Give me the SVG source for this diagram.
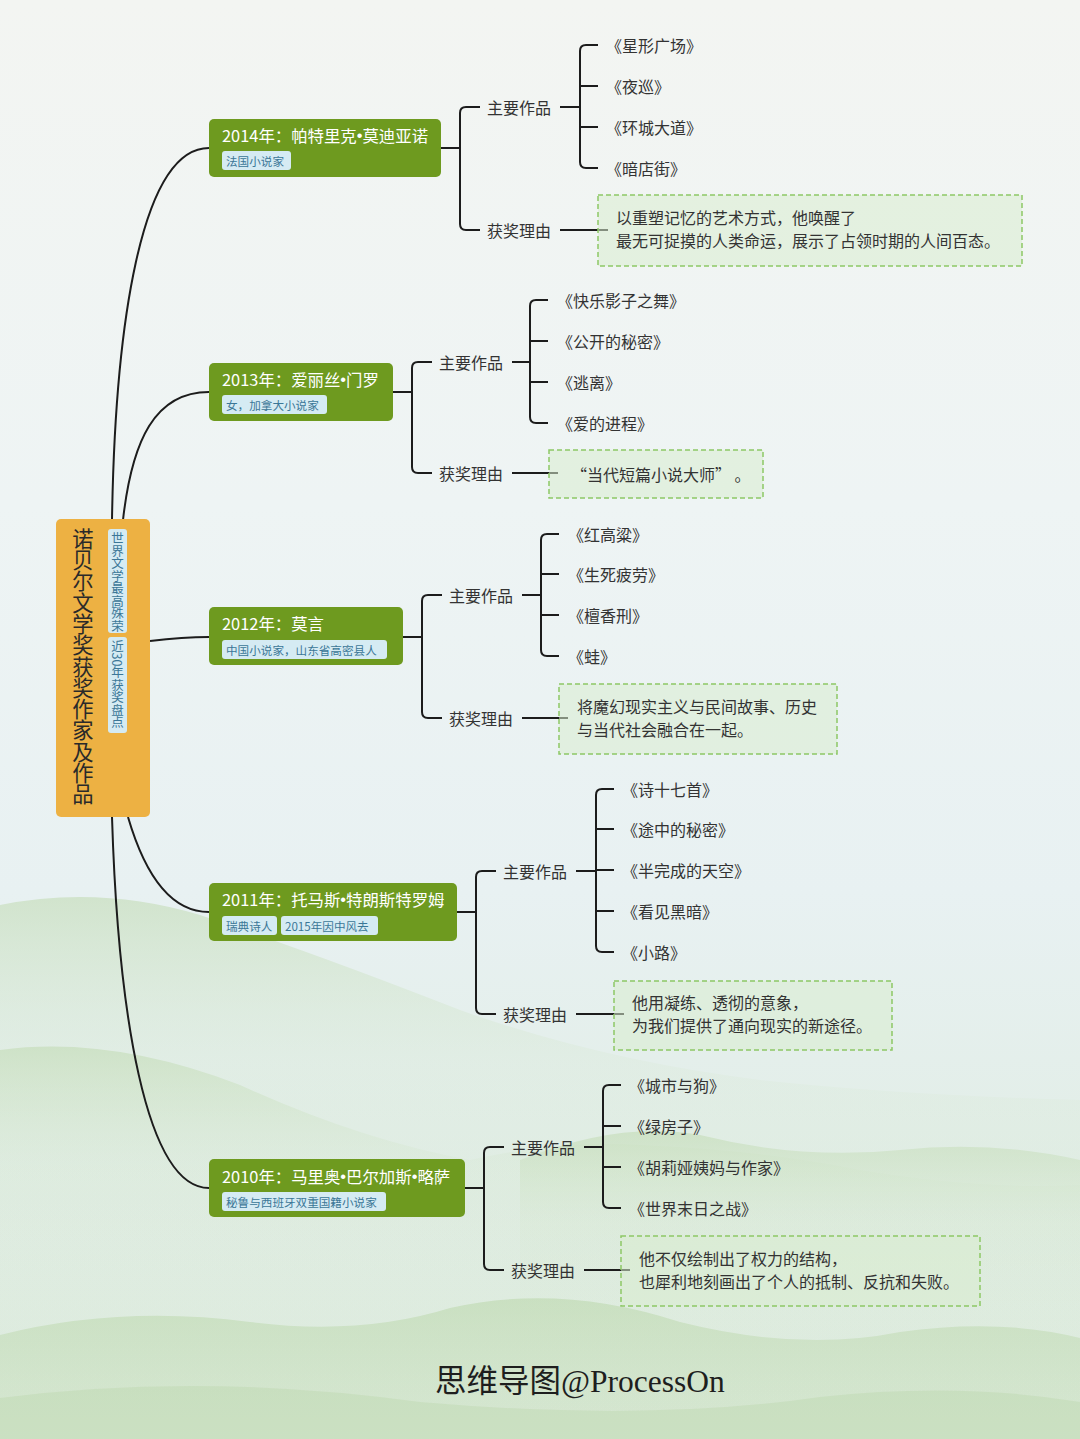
<svg xmlns="http://www.w3.org/2000/svg" width="1080" height="1439" viewBox="0 0 1080 1439">
<defs>
<linearGradient id="bg" x1="0" y1="0" x2="0" y2="1">
<stop offset="0" stop-color="#f3f5f2"/>
<stop offset="0.35" stop-color="#eef4f4"/>
<stop offset="0.62" stop-color="#e8f1f2"/>
<stop offset="1" stop-color="#dbeadb"/>
</linearGradient>
<linearGradient id="hill" x1="0" y1="0" x2="0" y2="1">
<stop offset="0" stop-color="#c2dbb4" stop-opacity="0.6"/>
<stop offset="0.3" stop-color="#d3e6cb" stop-opacity="0.2"/>
<stop offset="1" stop-color="#e6f0e6" stop-opacity="0"/>
</linearGradient>
<linearGradient id="hill2" x1="0" y1="0" x2="0" y2="1">
<stop offset="0" stop-color="#bcd8ad" stop-opacity="0.6"/>
<stop offset="1" stop-color="#cfe3c6" stop-opacity="0.45"/>
</linearGradient>
<style>
.t{font-family:"Noto Sans CJK SC","Noto Sans",sans-serif;}
.b{font-family:"Liberation Sans",sans-serif;}
.lbl{font-size:16px;fill:#333;dominant-baseline:central;}
.item{font-size:16px;fill:#333;dominant-baseline:central;}
.rsn{font-size:16px;fill:#333;}
.yr{fill:#6e9a1f;}
.ytitle{font-size:16.4px;fill:#fff;dominant-baseline:central;}
.tag{fill:#d5ebf3;}
.tagt{font-size:11.6px;fill:#3b7797;dominant-baseline:central;}
.box{fill:#d9edcf;fill-opacity:0.55;stroke:#8dc866;stroke-width:1.5;stroke-dasharray:5 3;}
.ln{fill:none;stroke:#1c1c1c;stroke-width:2;}
</style>
</defs>
<rect x="0" y="0" width="1080" height="1439" fill="url(#bg)"/>
<g id="background-hills">
<path d="M0,905 Q100,885 200,915 Q320,955 460,1010 Q600,1060 760,1080 Q900,1095 1080,1100 L1080,1439 L0,1439 Z" fill="url(#hill)"/>
<path d="M0,1050 Q110,1035 240,1085 Q360,1140 470,1160 Q560,1140 640,1145 Q760,1150 860,1170 Q980,1190 1080,1185 L1080,1439 L0,1439 Z" fill="url(#hill)"/>
<path d="M520,1160 Q620,1120 700,1135 Q800,1160 900,1150 Q990,1140 1080,1160 L1080,1439 L520,1439 Z" fill="url(#hill)"/>
<path d="M0,1335 Q120,1305 250,1322 Q360,1336 450,1308 Q560,1283 680,1322 Q800,1352 900,1332 Q1000,1318 1080,1338 L1080,1439 L0,1439 Z" fill="url(#hill2)"/>
<path d="M0,1398 Q200,1372 420,1402 Q650,1422 820,1397 Q960,1382 1080,1402 L1080,1439 L0,1439 Z" fill="#b6d4a6" fill-opacity="0.35"/>
</g>
<g id="connectors">
<path class="ln" d="M112,520 C115,330 140,148 209,148"/>
<path class="ln" d="M123,520 C132,440 155,392 209,392"/>
<path class="ln" d="M150,641 C175,638 190,637 209,637"/>
<path class="ln" d="M128,817 C145,875 170,912 209,912"/>
<path class="ln" d="M112,817 C118,1010 145,1188 209,1188"/>
<path class="ln" d="M441,148 H460 M480,107 H466 Q460,107 460,113 V224 Q460,230 466,230 H480 M560,107 H580 M598,45 H586 Q580,45 580,51 V162 Q580,168 586,168 H598 M580,86 H598 M580,127 H598 M560,230 H608"/>
<path class="ln" d="M393,392 H412 M432,362 H418 Q412,362 412,368 V467 Q412,473 418,473 H432 M512,362 H530 M548,300 H536 Q530,300 530,306 V417 Q530,423 536,423 H548 M530,341 H548 M530,382 H548 M512,473 H558"/>
<path class="ln" d="M403,637 H422 M442,595 H428 Q422,595 422,601 V712 Q422,718 428,718 H442 M522,595 H541 M559,534 H547 Q541,534 541,540 V650 Q541,656 547,656 H559 M541,574 H559 M541,615 H559 M522,718 H568"/>
<path class="ln" d="M457,912 H476 M496,871 H482 Q476,871 476,877 V1008 Q476,1014 482,1014 H496 M576,871 H596 M614,789 H602 Q596,789 596,795 V946 Q596,952 602,952 H614 M596,829 H614 M596,870 H614 M596,911 H614 M576,1014 H624"/>
<path class="ln" d="M465,1188 H484 M504,1147 H490 Q484,1147 484,1153 V1264 Q484,1270 490,1270 H504 M584,1147 H603 M621,1085 H609 Q603,1085 603,1091 V1202 Q603,1208 609,1208 H621 M603,1126 H621 M603,1167 H621 M584,1270 H630"/>
</g>
<g id="root">
<rect x="56" y="519" width="94" height="298" rx="5" fill="#edb143"/>
<text class="t" x="83" y="528" font-size="21.3" fill="#2a2a2a" style="writing-mode:vertical-rl">诺贝尔文学奖获奖作家及作品</text>
<rect class="tag" x="108" y="529" width="19" height="104" rx="3"/>
<text class="t" x="117.5" y="532" font-size="12.5" fill="#3b7797" style="writing-mode:vertical-rl">世界文学最高殊荣</text>
<rect class="tag" x="108" y="637" width="19" height="96" rx="3"/>
<text class="t" x="117.5" y="640" font-size="12.5" fill="#3b7797" style="writing-mode:vertical-rl">近30年获奖盘点</text>
</g>
<g id="n2014">
<rect class="yr" x="209" y="119" width="232" height="58" rx="5"/>
<text class="t ytitle" x="222" y="135">2014年：帕特里克<tspan class="b">•</tspan>莫迪亚诺</text>
<rect class="tag" x="222" y="151" width="69" height="19" rx="3"/>
<text class="t tagt" x="226" y="161">法国小说家</text>
</g>
<g id="n2014-works">
<text class="t lbl" x="487" y="107">主要作品</text>
<text class="t item" x="606" y="45">《星形广场》</text>
<text class="t item" x="606" y="86">《夜巡》</text>
<text class="t item" x="606" y="127">《环城大道》</text>
<text class="t item" x="606" y="168">《暗店街》</text>
</g>
<g id="n2014-reason">
<text class="t lbl" x="487" y="230">获奖理由</text>
<rect class="box" x="598" y="195" width="424" height="71"/>
<text class="t rsn" x="616" y="224">以重塑记忆的艺术方式，他唤醒了</text>
<text class="t rsn" x="616" y="247">最无可捉摸的人类命运，展示了占领时期的人间百态。</text>
</g>
<g id="n2013">
<rect class="yr" x="209" y="363" width="184" height="58" rx="5"/>
<text class="t ytitle" x="222" y="379">2013年：爱丽丝<tspan class="b">•</tspan>门罗</text>
<rect class="tag" x="222" y="395" width="105" height="19" rx="3"/>
<text class="t tagt" x="226" y="405">女，加拿大小说家</text>
</g>
<g id="n2013-works">
<text class="t lbl" x="439" y="362">主要作品</text>
<text class="t item" x="557" y="300">《快乐影子之舞》</text>
<text class="t item" x="557" y="341">《公开的秘密》</text>
<text class="t item" x="557" y="382">《逃离》</text>
<text class="t item" x="557" y="423">《爱的进程》</text>
</g>
<g id="n2013-reason">
<text class="t lbl" x="439" y="473">获奖理由</text>
<rect class="box" x="549" y="450" width="214" height="48"/>
<text class="t lbl" x="571" y="474">“当代短篇小说大师” 。</text>
</g>
<g id="n2012">
<rect class="yr" x="209" y="607" width="194" height="58" rx="5"/>
<text class="t ytitle" x="222" y="623">2012年：莫言</text>
<rect class="tag" x="222" y="640" width="165" height="19" rx="3"/>
<text class="t tagt" x="226" y="650">中国小说家，山东省高密县人</text>
</g>
<g id="n2012-works">
<text class="t lbl" x="449" y="595">主要作品</text>
<text class="t item" x="568" y="534">《红高粱》</text>
<text class="t item" x="568" y="574">《生死疲劳》</text>
<text class="t item" x="568" y="615">《檀香刑》</text>
<text class="t item" x="568" y="656">《蛙》</text>
</g>
<g id="n2012-reason">
<text class="t lbl" x="449" y="718">获奖理由</text>
<rect class="box" x="559" y="684" width="278" height="70"/>
<text class="t rsn" x="577" y="713">将魔幻现实主义与民间故事、历史</text>
<text class="t rsn" x="577" y="736">与当代社会融合在一起。</text>
</g>
<g id="n2011">
<rect class="yr" x="209" y="883" width="248" height="58" rx="5"/>
<text class="t ytitle" x="222" y="899">2011年：托马斯<tspan class="b">•</tspan>特朗斯特罗姆</text>
<rect class="tag" x="222" y="916" width="55" height="19" rx="3"/>
<text class="t tagt" x="226" y="926">瑞典诗人</text>
<rect class="tag" x="281" y="916" width="97" height="19" rx="3"/>
<text class="t tagt" x="285" y="926">2015年因中风去</text>
</g>
<g id="n2011-works">
<text class="t lbl" x="503" y="871">主要作品</text>
<text class="t item" x="622" y="789">《诗十七首》</text>
<text class="t item" x="622" y="829">《途中的秘密》</text>
<text class="t item" x="622" y="870">《半完成的天空》</text>
<text class="t item" x="622" y="911">《看见黑暗》</text>
<text class="t item" x="622" y="952">《小路》</text>
</g>
<g id="n2011-reason">
<text class="t lbl" x="503" y="1014">获奖理由</text>
<rect class="box" x="614" y="981" width="278" height="69"/>
<text class="t rsn" x="632" y="1009">他用凝练、透彻的意象，</text>
<text class="t rsn" x="632" y="1032">为我们提供了通向现实的新途径。</text>
</g>
<g id="n2010">
<rect class="yr" x="209" y="1159" width="256" height="58" rx="5"/>
<text class="t ytitle" x="222" y="1176">2010年：马里奥<tspan class="b">•</tspan>巴尔加斯<tspan class="b">•</tspan>略萨</text>
<rect class="tag" x="222" y="1192" width="164" height="19" rx="3"/>
<text class="t tagt" x="226" y="1202">秘鲁与西班牙双重国籍小说家</text>
</g>
<g id="n2010-works">
<text class="t lbl" x="511" y="1147">主要作品</text>
<text class="t item" x="629" y="1085">《城市与狗》</text>
<text class="t item" x="629" y="1126">《绿房子》</text>
<text class="t item" x="629" y="1167">《胡莉娅姨妈与作家》</text>
<text class="t item" x="629" y="1208">《世界末日之战》</text>
</g>
<g id="n2010-reason">
<text class="t lbl" x="511" y="1270">获奖理由</text>
<rect class="box" x="621" y="1236" width="359" height="70"/>
<text class="t rsn" x="639" y="1265">他不仅绘制出了权力的结构，</text>
<text class="t rsn" x="639" y="1288">也犀利地刻画出了个人的抵制、反抗和失败。</text>
</g>
<text x="435" y="1392" font-family="'Liberation Serif','Noto Sans CJK SC',serif" font-size="31.5" fill="#1e1e1e">思维导图@ProcessOn</text>
</svg>
